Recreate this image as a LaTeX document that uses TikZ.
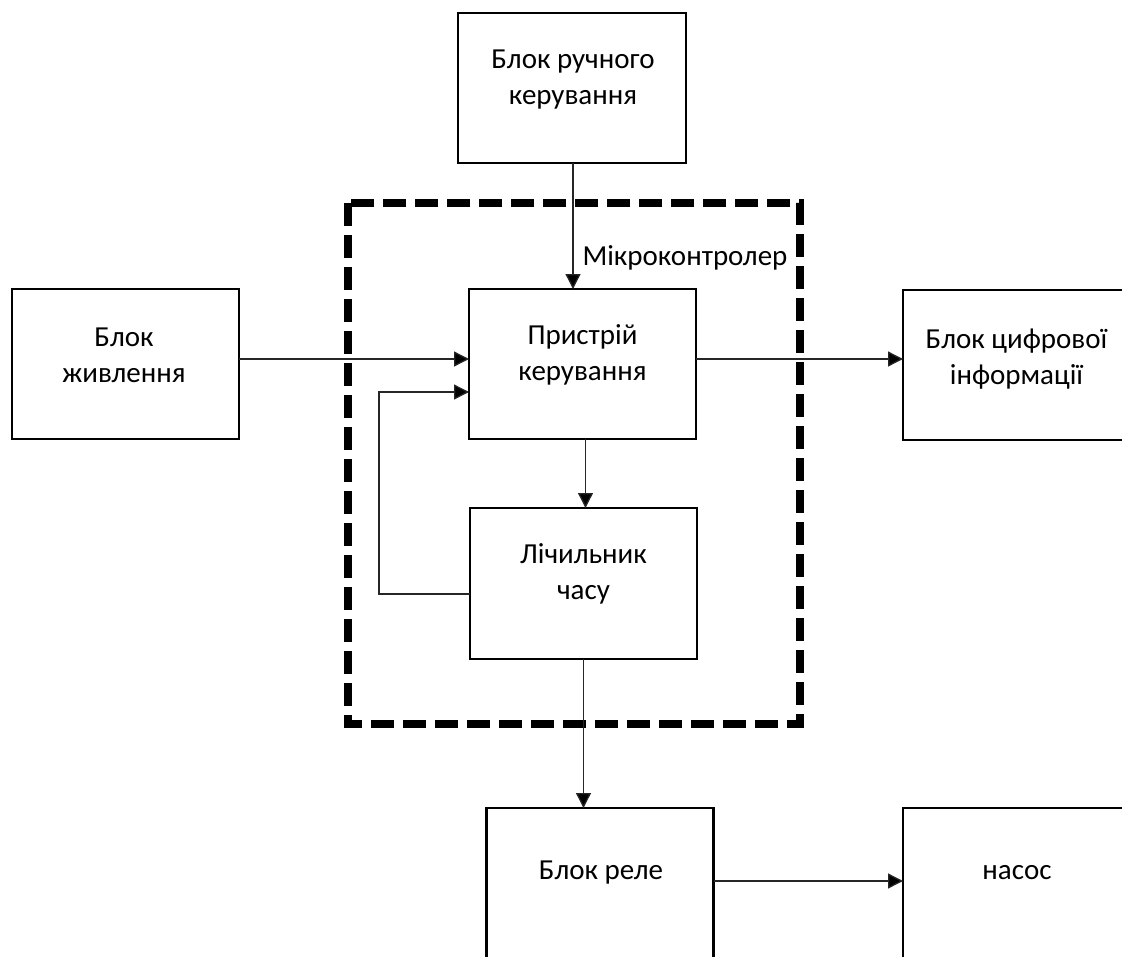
\documentclass[tikz,border=0pt]{standalone}
\usepackage{fontspec}
\setmainfont{Carlito}
\usetikzlibrary{arrows.meta}
\tikzset{
  blk/.style={draw=black, line width=2.5pt, minimum width=#1, minimum height=150pt, inner sep=0pt, outer sep=0pt},
  blk/.default=227pt,
  txt/.style={align=center, inner sep=0pt, font=\fontsize{29}{36}\selectfont},
  conn/.style={draw=black!85, line width=1.3pt, -{Triangle[length=15pt,width=15pt,fill=black]}},
  mcu/.style={draw=black, line width=8pt, dash pattern=on 23pt off 9pt},
}
\begin{document}
\begin{tikzpicture}[x=1pt, y=-1pt]
\clip (0,0) rectangle (1122,956);
\fill[white] (0,0) rectangle (1122,956);

% dashed microcontroller frame
\draw[mcu] (348,203) rectangle (800,724);
\node[txt, anchor=center] (mcl) at (685,258) {Мікроконтролер};

% boxes
\node[blk=228pt] (ruch) at (572,88) {};
\node[txt] (ruchT) at (573,80) {Блок ручного\\керування};

\node[blk] (zhyv) at (125.5,364) {};
\node[txt] (zhyvT) at (124,355) {Блок\\живлення};

\node[blk] (prys) at (582.5,364) {};
\node[txt] (prysT) at (582.5,355) {Пристрій\\керування};

\node[blk, minimum height=151pt] (lich) at (583.5,583.5) {};
\node[txt] (lichT) at (583.5,574) {Лічильник\\часу};

\node[blk] (tsyf) at (1016.5,365) {};
\node[txt] (tsyfT) at (1016.5,359) {Блок цифрової\\інформації};

\node[blk] (rele) at (600,883) {};
\node[txt] (releT) at (601,873) {Блок реле};

\node[blk] (nasos) at (1016.5,883) {};
\node[txt] (nasosT) at (1017,873) {насос};

% connectors
\draw[conn] ([xshift=1pt]ruch.south) -- ([xshift=1pt]ruch.south |- prys.north);
\draw[conn] ([yshift=5pt]zhyv.east) -- ([yshift=5pt]zhyv.east -| prys.west);
\draw[conn] ([yshift=5pt]prys.east) -- ([yshift=5pt]prys.east -| tsyf.west);
\draw[conn] ([xshift=3pt]prys.south) -- ([xshift=3pt]prys.south |- lich.north);
\coordinate (fbA) at (379,594);
\coordinate (fbB) at (379,392);
\draw[conn] (lich.west |- fbA) -- (fbA) -- (fbB) -- (fbB -| prys.west);
\draw[conn] (lich.south) -- (lich.south |- rele.north);
\draw[conn] ([yshift=2pt]rele.east) -- ([yshift=2pt]rele.east -| nasos.west);
\end{tikzpicture}
\end{document}
